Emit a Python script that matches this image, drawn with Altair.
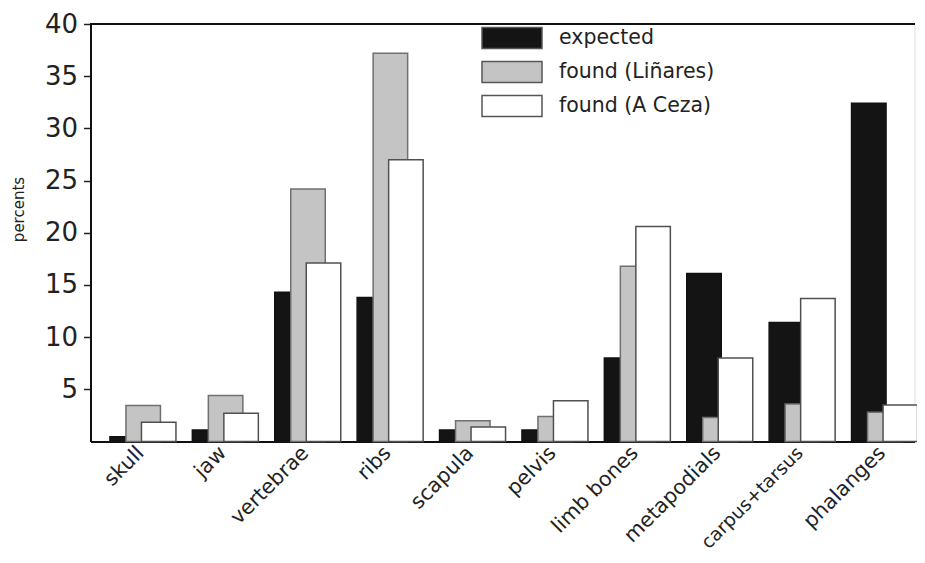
import altair as alt
import pandas as pd

categories = ["skull", "jaw", "vertebrae", "ribs", "scapula", "pelvis",
              "limb bones", "metapodials", "carpus+tarsus", "phalanges"]
series_names = ["expected", "found (Liñares)", "found (A Ceza)"]
expected = [0.45, 1.1, 14.3, 13.8, 1.1, 1.1, 8.0, 16.1, 11.4, 32.4]
found_linares = [3.45, 4.4, 24.2, 37.2, 2.0, 2.4, 16.8, 2.3, 3.6, 2.8]
found_aceza = [1.85, 2.7, 17.1, 27.0, 1.4, 3.9, 20.6, 8.0, 13.7, 3.5]
y_ticks = [5, 10, 15, 20, 25, 30, 35, 40]

rows = []
for name, vals in zip(series_names, [expected, found_linares, found_aceza]):
    for c, v in zip(categories, vals):
        rows.append({"category": c, "series": name, "value": v})
df = pd.DataFrame(rows)

FONT = "DejaVu Sans"
fills = ["#141414", "#c4c4c4", "#ffffff"]
strokes = ["#111111", "#707070", "#505050"]
offsets = [-4.5, 11.5, 27.0]

x_label_size = {"condition": {"test": "datum.value === 'carpus+tarsus'", "value": 18.5},
                "value": 20.5}

x_enc = alt.X("category:N", sort=categories,
              scale=alt.Scale(paddingInner=0, paddingOuter=0),
              axis=alt.Axis(title=None, labelAngle=-45, labelAlign="right",
                            labelBaseline="middle", labelFontSize=x_label_size,
                            labelFont=FONT, labelColor="#222", ticks=False,
                            labelPadding=8, labelOffset=9, domainColor="#111",
                            domainWidth=2))
y_enc = alt.Y("value:Q", scale=alt.Scale(domain=[0, 40], nice=False, zero=True),
              axis=alt.Axis(title="percents", values=y_ticks, labelFontSize=26,
                            labelFont=FONT, labelColor="#222", tickSize=7,
                            tickWidth=1.5, tickColor="#222", domainColor="#111",
                            domainWidth=2, grid=False, labelPadding=6,
                            titleFont=FONT, titleFontSize=15, titleFontWeight="normal",
                            titleColor="#222", titleX=-72, titleY=185,
                            titleAngle=-90, titleAlign="center",
                            titleBaseline="middle"))
color_enc = alt.Color("series:N", scale=alt.Scale(domain=series_names, range=fills),
                      legend=alt.Legend(title=None, orient="none", legendX=410,
                                        legendY=2.6,
                                        symbolType="M-2.857,-1H2.857V1H-2.857Z",
                                        symbolSize=441, symbolStrokeColor="#555",
                                        symbolStrokeWidth=1.5, symbolOpacity=1,
                                        labelFontSize=20.5, labelFont=FONT,
                                        labelColor="#222", labelOffset=35.5,
                                        rowPadding=7, padding=0))

layers = []
for name, off, st in zip(series_names, offsets, strokes):
    layers.append(
        alt.Chart(df)
        .transform_filter(alt.datum.series == name)
        .mark_bar(width=34.5, xOffset=off, stroke=st, strokeWidth=1.5, opacity=1)
        .encode(x=x_enc, y=y_enc, color=color_enc)
    )

top_rule = alt.Chart(df).mark_rule(color="#111", strokeWidth=2).encode(
    y=alt.datum(40))

chart = (
    alt.layer(*layers, top_rule)
    .properties(width=824, height=417.5,
                autosize=alt.AutoSizeParams(type="none"),
                padding={"left": 82.5, "top": 16, "right": 2, "bottom": 113})
    .configure_view(stroke=None)
    .configure(background="white")
)

chart.save("out.html", embed_options={"renderer": "svg", "actions": False})
